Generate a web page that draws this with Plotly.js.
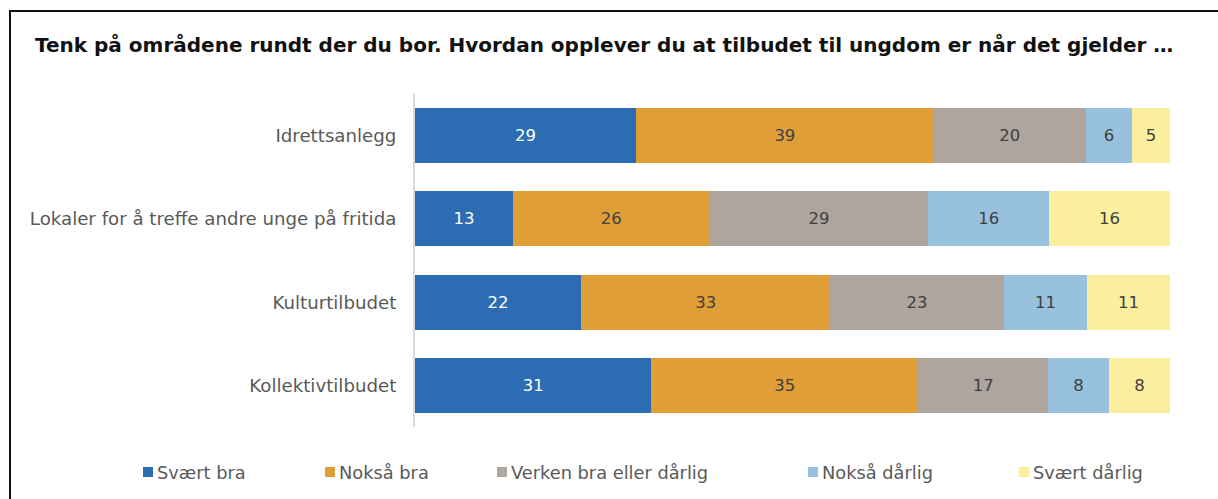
<!DOCTYPE html>
<html>
<head>
<meta charset="utf-8">
<script src="https://cdn.plot.ly/plotly-3.0.1.min.js"></script>
<style>
html,body{margin:0;padding:0;background:#fff;}
#wrap{position:relative;width:1218px;height:499px;overflow:hidden;}
#chart{width:1218px;height:499px;}
#frame{position:absolute;left:9px;top:10px;right:-10px;bottom:-10px;border-top:2px solid #111;border-left:2px solid #111;pointer-events:none;}
</style>
</head>
<body>
<div id="wrap"><div id="chart"></div><div id="frame"></div></div>
<script>
const categories = ["Idrettsanlegg", "Lokaler for å treffe andre unge på fritida", "Kulturtilbudet", "Kollektivtilbudet"];
const seriesNames = ["Svært bra", "Nokså bra", "Verken bra eller dårlig", "Nokså dårlig", "Svært dårlig"];
const svaertBra = [29, 13, 22, 31];
const noksaBra = [39, 26, 33, 35];
const verken = [20, 29, 23, 17];
const noksaDarlig = [6, 16, 11, 8];
const svaertDarlig = [5, 16, 11, 8];
const seriesValues = [svaertBra, noksaBra, verken, noksaDarlig, svaertDarlig];

const colors = ["#2b6cb3", "#e09e37", "#ada59e", "#97c1dc", "#fcee9f"];
const textColors = ["#ffffff", "#404040", "#404040", "#404040", "#404040"];
const legendX = [143, 325, 497, 808, 1019];
const FONT = "'DejaVu Sans', sans-serif";

const W = 1218, H = 499;
const traces = seriesNames.map((name, i) => ({
  type: "bar",
  orientation: "h",
  name: name,
  y: categories,
  x: seriesValues[i],
  text: seriesValues[i].map(String),
  texttemplate: "%{text}",
  textposition: "inside",
  insidetextanchor: "middle",
  textangle: 0,
  textfont: {family: FONT, size: 16.5, color: textColors[i]},
  marker: {color: colors[i], line: {width: 0}},
  hoverinfo: "skip",
  showlegend: false
}));

const shapes = [];
const annotations = [];
const legY = 472;
seriesNames.forEach((name, i) => {
  const x0 = legendX[i];
  shapes.push({type: "rect", xref: "paper", yref: "paper",
    x0: (x0 - 415) / 755, x1: (x0 + 10 - 415) / 755,
    y0: (H - 72 - (legY + 5)) / 333, y1: (H - 72 - (legY - 5)) / 333,
    fillcolor: colors[i], line: {width: 0}, layer: "above"});
  annotations.push({xref: "paper", yref: "paper",
    x: (x0 + 12 - 415) / 755, y: (H - 72 - legY) / 333,
    xanchor: "left", yanchor: "middle", showarrow: false, text: name,
    font: {family: FONT, size: 17.8, color: "#595959"}});
});

const layout = {
  width: W, height: H,
  margin: {l: 415, r: 48, t: 94, b: 72},
  paper_bgcolor: "#ffffff", plot_bgcolor: "#ffffff",
  barmode: "stack", barnorm: "percent", bargap: 0.34,
  title: {text: "<b>Tenk på områdene rundt der du bor. Hvordan opplever du at tilbudet til ungdom er når det gjelder …</b>",
    x: 35 / W, xref: "container", xanchor: "left", y: 1 - 45 / H, yref: "container", yanchor: "middle",
    font: {family: FONT, size: 20, color: "#111111"}},
  xaxis: {range: [0, 100], showgrid: false, zeroline: false, showticklabels: false, showline: false, fixedrange: true},
  yaxis: {autorange: "reversed", showgrid: false, zeroline: false, showline: true, linecolor: "#d9d9d9", linewidth: 2,
    ticks: "", ticklabelstandoff: 13,
    tickfont: {family: FONT, size: 18.2, color: "#595959"}},
  shapes: shapes,
  annotations: annotations,
  showlegend: false
};

Plotly.newPlot("chart", traces, layout, {displayModeBar: false, staticPlot: true});
</script>
</body>
</html>
